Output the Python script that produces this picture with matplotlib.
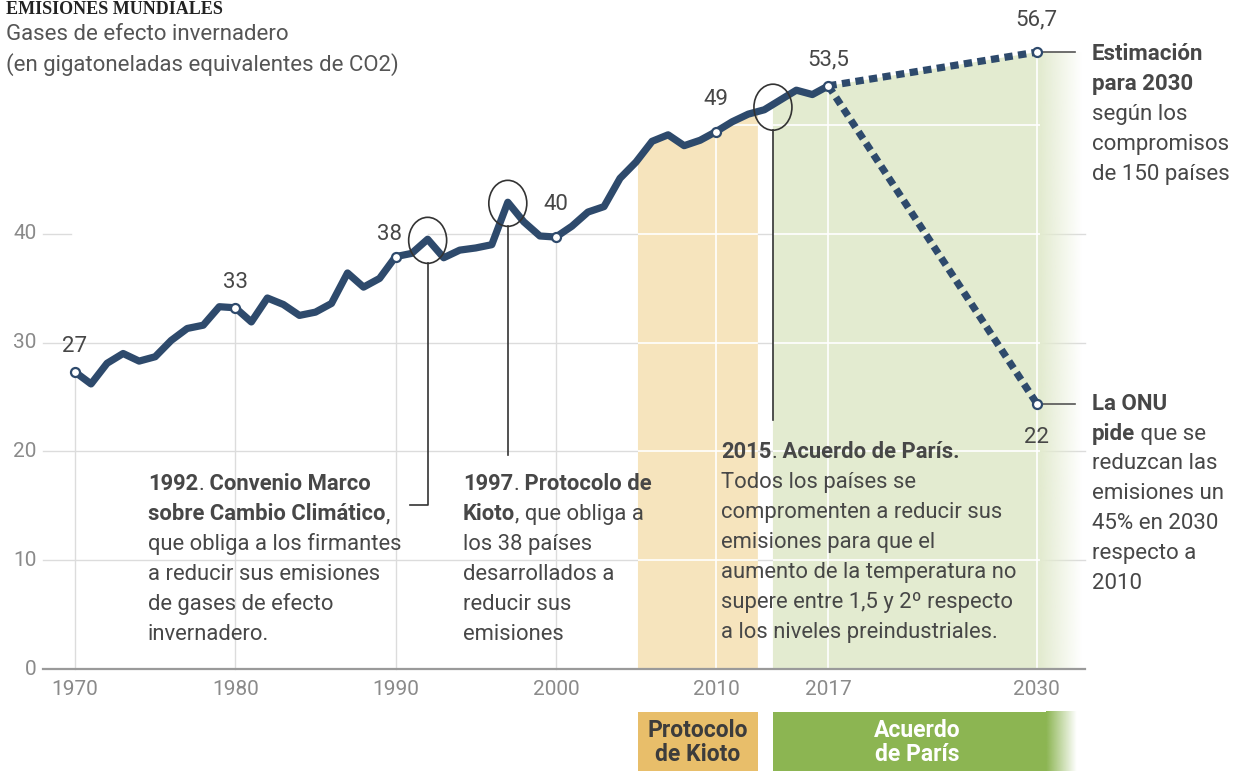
import numpy as np
import matplotlib
matplotlib.use("Agg")
import matplotlib.pyplot as plt
from matplotlib.patches import Ellipse, Polygon, Rectangle

# data
years = np.arange(1970, 2018)
emissions = [27.3, 26.2, 28.1, 29.0, 28.3, 28.7, 30.2, 31.3, 31.6, 33.3,
             33.2, 31.9, 34.1, 33.5, 32.5, 32.8, 33.6, 36.4, 35.1, 35.9,
             37.9, 38.2, 39.5, 37.8, 38.5, 38.7, 39.0, 42.9, 41.1, 39.8,
             39.7, 40.7, 42.0, 42.5, 45.1, 46.6, 48.5, 49.1, 48.1, 48.6,
             49.4, 50.3, 51.0, 51.4, 52.3, 53.2, 52.8, 53.6]
target_year = 2030
estimate_2030 = 56.7
onu_2030 = 24.4          # where the point sits in the picture
onu_label = "22"
marked_years = [1970, 1980, 1990, 2000, 2010, 2017]
marked_labels = ["27", "33", "38", "40", "49", "53,5"]
estimate_label = "56,7"
xtick_years = [1970, 1980, 1990, 2000, 2010, 2017, 2030]
ytick_vals = [0, 10, 20, 30, 40]
kioto_span = (2005.12, 2012.6)
paris_span = (2013.54, 2030.2)
event_years = [1992, 1997, 2013.54]

NAVY = "#2e4a6c"
TXT = "#474747"
GRID = "#dcdcdc"
ORANGE_BG = "#f6e4bd"
GREEN_BG = "#e3ebd0"
ORANGE_BOX = "#e8be6a"
GREEN_BOX = "#8cb552"
FONT = ["Roboto", "DejaVu Sans"]
plt.rcParams["font.family"] = FONT

fig = plt.figure(figsize=(12.45, 7.71), dpi=100)
ax = fig.add_axes([0, 0, 1, 1])
ax.set_xlim(1965.32, 2042.99)
ax.set_ylim(-9.375, 61.49)
ax.axis("off")

val = lambda y: float(np.interp(y, years, emissions))

# grey grid
for v in [10, 20, 30]:
    ax.plot([1968.0, 2033.0], [v, v], color=GRID, lw=1, zorder=1)
ax.plot([1968.0, 1969.75], [40, 40], color=GRID, lw=1, zorder=1)
ax.plot([1992.0, 2033.0], [40, 40], color=GRID, lw=1, zorder=1)
for y in marked_years[:4]:
    ax.plot([y, y], [0, val(y)], color=GRID, lw=1, zorder=1)

# shaded periods
kx = np.concatenate([[kioto_span[0]], years[(years > kioto_span[0]) & (years < kioto_span[1])], [kioto_span[1]]])
ky = [val(x) for x in kx]
kpoly = Polygon(list(zip(kx, ky)) + [(kioto_span[1], 0), (kioto_span[0], 0)],
                closed=True, facecolor=ORANGE_BG, edgecolor="none", zorder=2)
ax.add_patch(kpoly)

px = np.concatenate([[paris_span[0]], years[years > paris_span[0]]])
py = [val(x) for x in px]
ppts = list(zip(px, py)) + [(target_year, estimate_2030), (paris_span[1], estimate_2030),
                            (paris_span[1], 0), (paris_span[0], 0)]
ppoly = Polygon(ppts, closed=True, facecolor=GREEN_BG, edgecolor="none", zorder=2)
ax.add_patch(ppoly)

# fade of the green area to the right
g = np.array(matplotlib.colors.to_rgb(GREEN_BG))
n = 64
grad = np.ones((1, n, 4))
grad[0, :, :3] = g
grad[0, :, 3] = np.linspace(1, 0, n)
ax.imshow(grad, extent=(paris_span[1] - 0.02, 2032.8, 0, estimate_2030), aspect="auto",
          zorder=2, interpolation="bilinear")

# white grid inside shaded areas
for patch in [kpoly, ppoly]:
    for v in [10, 20, 30, 40, 50]:
        ln, = ax.plot([2004, 2031], [v, v], color="white", lw=1.2, zorder=3)
        ln.set_clip_path(patch)
for y, top in [(2010, val(2010)), (2017, val(2017)), (target_year, estimate_2030)]:
    ax.plot([y, y], [0, top], color="white", lw=1.2, zorder=3)

# zero line
ax.plot([1968.0, 2033.0], [0, 0], color="#9a9a9a", lw=1.6, zorder=4)

# main series
ax.plot(years, emissions, color=NAVY, lw=5.2, solid_joinstyle="round",
        solid_capstyle="round", zorder=6)
for end in [estimate_2030, onu_2030]:
    ax.plot([2017, target_year], [val(2017), end], color=NAVY, lw=5.2,
            linestyle=(0, (1.15, 0.75)), dash_capstyle="butt", zorder=6)
ax.plot(marked_years, [val(y) for y in marked_years], "o", ms=6.5, mfc="white",
        mec=NAVY, mew=1.6, zorder=7)
ax.plot([target_year, target_year], [estimate_2030, onu_2030], "o", ls="none", ms=6.5,
        mfc="white", mec=NAVY, mew=1.6, zorder=7)

# value labels
offs = {1970: (0, 2.3), 1980: (0, 2.3), 1990: (-0.35, 2.0), 2000: (0, 2.95),
        2010: (0, 2.9), 2017: (0, 2.4)}
for y, lab in zip(marked_years, marked_labels):
    dx, dy = offs[y]
    ax.text(y + dx, val(y) + dy, lab, ha="center", va="center", fontsize=16,
            color=TXT, zorder=8)
ax.text(target_year, estimate_2030 + 2.95, estimate_label, ha="center", va="center",
        fontsize=16, color=TXT)
ax.text(target_year, onu_2030 - 3.1, onu_label, ha="center", va="center",
        fontsize=16, color=TXT)

# axis labels
for v in ytick_vals:
    ax.text(1967.6, v, str(v), ha="right", va="center", fontsize=15, color="#8a8a8a")
for y in xtick_years:
    ax.text(y, -1.93, str(y), ha="center", va="center", fontsize=15, color="#8a8a8a")

# circled events and leader lines
ell_h = 4.23
for y, dy in zip(event_years, [-0.1, -0.1, -0.25]):
    ax.add_patch(Ellipse((y, val(y) + dy), 2.37, ell_h, fill=False, edgecolor="#333333",
                         lw=1.2, zorder=9))
ax.plot([1992, 1992, 1990.9], [val(1992) - 2.2, 15.07, 15.07], color="#333333", lw=1.2, zorder=9)
ax.plot([1997, 1997], [val(1997) - 2.2, 19.67], color="#333333", lw=1.2, zorder=9)
ax.plot([2013.54, 2013.54], [val(2013.54) - 2.3, 22.9], color="#333333", lw=1.2, zorder=9)


def rich_block(x, y, lines, size=15.8, step=2.76, color=TXT):
    for i, segs in enumerate(lines):
        t = None
        for s, bold in segs:
            w = "bold" if bold else "normal"
            if t is None:
                t = ax.text(x, y - i * step, s, fontsize=size, fontweight=w, color=color,
                            va="center", ha="left", zorder=10)
            else:
                t = ax.annotate(s, xy=(1, 0), xycoords=t, fontsize=size, fontweight=w,
                                color=color, va="bottom", ha="left", zorder=10)


rich_block(1974.55, 17.0, [
    [("1992", True), (".", False), (" Convenio Marco", True)],
    [("sobre Cambio Climático", True), (",", False)],
    [("que obliga a los firmantes", False)],
    [("a reducir sus emisiones", False)],
    [("de gases de efecto", False)],
    [("invernadero.", False)],
])
rich_block(1994.2, 17.0, [
    [("1997", True), (".", False), (" Protocolo de", True)],
    [("Kioto", True), (", que obliga a", False)],
    [("los 38 países", False)],
    [("desarrollados a", False)],
    [("reducir sus", False)],
    [("emisiones", False)],
])
rich_block(2010.3, 19.9, [
    [("2015", True), (".", False), (" Acuerdo de París.", True)],
    [("Todos los países se", False)],
    [("compromenten a reducir sus", False)],
    [("emisiones para que el", False)],
    [("aumento de la temperatura no", False)],
    [("supere entre 1,5 y 2º respecto", False)],
    [("a los niveles preindustriales.", False)],
])
rich_block(2033.45, 56.5, [
    [("Estimación", True)],
    [("para 2030", True)],
    [("según los", False)],
    [("compromisos", False)],
    [("de 150 países", False)],
], size=16)
rich_block(2033.45, 24.4, [
    [("La ONU", True)],
    [("pide", True), (" que se", False)],
    [("reduzcan las", False)],
    [("emisiones un", False)],
    [("45% en 2030", False)],
    [("respecto a", False)],
    [("2010", False)],
], size=16)
for end in [estimate_2030, onu_2030]:
    ax.plot([target_year + 0.25, 2032.37], [end, end], color="#555555", lw=1.2)

# period boxes below the axis
ax.add_patch(Rectangle((kioto_span[0], -9.5), kioto_span[1] - kioto_span[0], 5.55,
                       facecolor=ORANGE_BOX, edgecolor="none"))
ax.text(sum(kioto_span) / 2, -6.75, "Protocolo\nde Kioto", ha="center", va="center",
        fontsize=16.5, fontweight="bold", color="#3c3c3c", linespacing=1.1)
ax.add_patch(Rectangle((paris_span[0], -9.5), 2030.6 - paris_span[0], 5.55,
                       facecolor=GREEN_BOX, edgecolor="none"))
gb = np.ones((1, n, 4))
gb[0, :, :3] = matplotlib.colors.to_rgb(GREEN_BOX)
gb[0, :, 3] = np.linspace(1, 0, n)
ax.imshow(gb, extent=(2030.58, 2032.5, -9.5, -3.95), aspect="auto", interpolation="bilinear")
ax.text((paris_span[0] + 2031.5) / 2, -6.75, "Acuerdo\nde París", ha="center", va="center",
        fontsize=16.5, fontweight="bold", color="white", linespacing=1.1)
ax.set_xlim(1965.32, 2042.99)
ax.set_ylim(-9.375, 61.49)

# heading
fig.text(6 / 1245, 1 - 14 / 771, "EMISIONES MUNDIALES", fontsize=13, fontweight="bold",
         family=["Liberation Serif", "DejaVu Serif"], color="#222222", va="baseline")
fig.text(6 / 1245, 1 - 34 / 771, "Gases de efecto invernadero", fontsize=16,
         color="#555555", va="center")
fig.text(6 / 1245, 1 - 65 / 771, "(en gigatoneladas equivalentes de CO2)", fontsize=16,
         color="#555555", va="center")

fig.savefig("out.png", dpi=100)
